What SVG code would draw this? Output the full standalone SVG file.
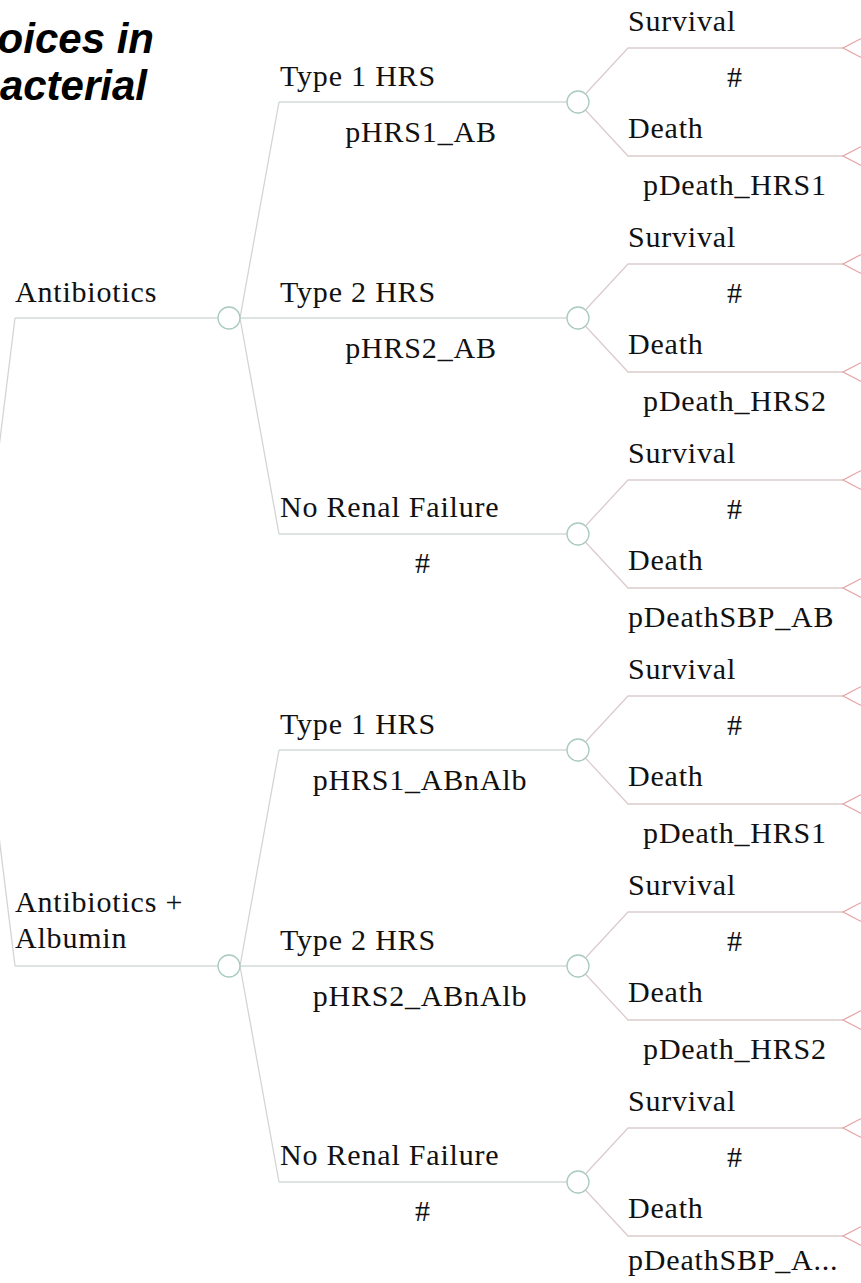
<svg xmlns="http://www.w3.org/2000/svg" width="861" height="1283" viewBox="0 0 861 1283">
<style>
text{font-family:"Liberation Serif","Times New Roman",serif;font-size:30px;letter-spacing:0.8px;fill:#111}
.title{font-family:"Liberation Sans",Arial,sans-serif;font-weight:bold;font-style:italic;font-size:42px;letter-spacing:0;text-anchor:end;fill:#000}
.mid{text-anchor:middle}
.l1{stroke:#d4d4d4;stroke-width:1.3;fill:none}
.h1{stroke:#d2dbd9;stroke-width:1.3;fill:none}
.l3{stroke:#dccbcd;stroke-width:1.3;fill:none}
.chance{fill:#fff;stroke:#a9cbbf;stroke-width:1.3}
.term{fill:none;stroke:#e6a3a8;stroke-width:1.3}
</style>
<g id="title">
<text class="title" x="154" y="53">oices in</text>
<text class="title" x="147" y="100">acterial</text>
</g>
<g id="connectors">
<path class="l1" d="M-25,642 L15,318 M-25,642 L15,966"/>
<path class="h1" d="M15,318 H229 M15,966 H229"/>
<path class="l1" d="M240,318 L279,102 M240,318 L279,534 M240,966 L279,750 M240,966 L279,1182"/>
<path class="h1" d="M240,318 H578 M279,102 H578 M279,534 H578 M240,966 H578 M279,750 H578 M279,1182 H578"/>
<path class="l3" d="M578,102 L628,48 H843 M578,102 L628,156 H843
M578,318 L628,264 H843 M578,318 L628,372 H843
M578,534 L628,480 H843 M578,534 L628,588 H843
M578,750 L628,696 H843 M578,750 L628,804 H843
M578,966 L628,912 H843 M578,966 L628,1020 H843
M578,1182 L628,1128 H843 M578,1182 L628,1236 H843"/>
</g>
<g id="n-antibiotics">
<text x="15" y="302">Antibiotics</text>
<circle class="chance" cx="229" cy="318" r="11"/>
</g>
<g id="n-antibiotics-albumin">
<text x="15" y="912">Antibiotics +</text>
<text x="15" y="948">Albumin</text>
<circle class="chance" cx="229" cy="966" r="11"/>
</g>
<g id="n-ab-hrs1">
<text x="280" y="86">Type 1 HRS</text>
<text class="mid" x="421" y="142">pHRS1_AB</text>
<circle class="chance" cx="578" cy="102" r="11"/>
</g>
<g id="n-ab-hrs2">
<text x="280" y="302">Type 2 HRS</text>
<text class="mid" x="421" y="358">pHRS2_AB</text>
<circle class="chance" cx="578" cy="318" r="11"/>
</g>
<g id="n-ab-norf">
<text x="280" y="517">No Renal Failure</text>
<text class="mid" x="423" y="573">#</text>
<circle class="chance" cx="578" cy="534" r="11"/>
</g>
<g id="n-aba-hrs1">
<text x="280" y="734">Type 1 HRS</text>
<text class="mid" x="420" y="790">pHRS1_ABnAlb</text>
<circle class="chance" cx="578" cy="750" r="11"/>
</g>
<g id="n-aba-hrs2">
<text x="280" y="950">Type 2 HRS</text>
<text class="mid" x="420" y="1006">pHRS2_ABnAlb</text>
<circle class="chance" cx="578" cy="966" r="11"/>
</g>
<g id="n-aba-norf">
<text x="280" y="1165">No Renal Failure</text>
<text class="mid" x="423" y="1221">#</text>
<circle class="chance" cx="578" cy="1182" r="11"/>
</g>
<g id="outcomes-1">
<text x="628" y="31">Survival</text>
<text class="mid" x="735" y="87">#</text>
<text x="628" y="138">Death</text>
<text class="mid" x="735" y="195">pDeath_HRS1</text>
<polyline class="term" points="866,36 843,48 866,60"/>
<polyline class="term" points="866,144 843,156 866,168"/>
</g>
<g id="outcomes-2">
<text x="628" y="247">Survival</text>
<text class="mid" x="735" y="303">#</text>
<text x="628" y="354">Death</text>
<text class="mid" x="735" y="411">pDeath_HRS2</text>
<polyline class="term" points="866,252 843,264 866,276"/>
<polyline class="term" points="866,360 843,372 866,384"/>
</g>
<g id="outcomes-3">
<text x="628" y="463">Survival</text>
<text class="mid" x="735" y="519">#</text>
<text x="628" y="570">Death</text>
<text x="628" y="627">pDeathSBP_AB</text>
<polyline class="term" points="866,468 843,480 866,492"/>
<polyline class="term" points="866,576 843,588 866,600"/>
</g>
<g id="outcomes-4">
<text x="628" y="679">Survival</text>
<text class="mid" x="735" y="735">#</text>
<text x="628" y="786">Death</text>
<text class="mid" x="735" y="843">pDeath_HRS1</text>
<polyline class="term" points="866,684 843,696 866,708"/>
<polyline class="term" points="866,792 843,804 866,816"/>
</g>
<g id="outcomes-5">
<text x="628" y="895">Survival</text>
<text class="mid" x="735" y="951">#</text>
<text x="628" y="1002">Death</text>
<text class="mid" x="735" y="1059">pDeath_HRS2</text>
<polyline class="term" points="866,900 843,912 866,924"/>
<polyline class="term" points="866,1008 843,1020 866,1032"/>
</g>
<g id="outcomes-6">
<text x="628" y="1111">Survival</text>
<text class="mid" x="735" y="1167">#</text>
<text x="628" y="1218">Death</text>
<text x="628" y="1270">pDeathSBP_A...</text>
<polyline class="term" points="866,1116 843,1128 866,1140"/>
<polyline class="term" points="866,1224 843,1236 866,1248"/>
</g>
</svg>
